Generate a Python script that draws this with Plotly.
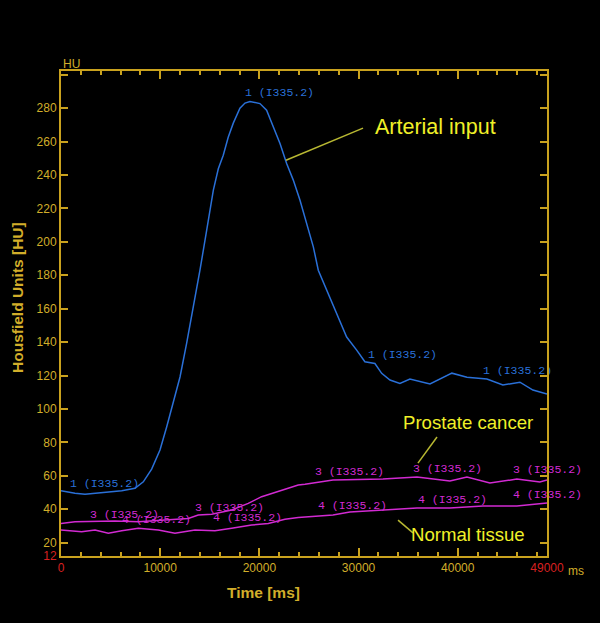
import plotly.graph_objects as go

# ---- data ----
art_t = [0, 1410, 2420, 4440, 6120, 7460, 8300, 9140, 9980, 10660, 11320, 12000, 12670,
         13340, 14010, 14690, 15360, 15860, 16360, 16860, 17370, 18040, 18550, 19050, 20060,
         20730, 21400, 22080, 22750, 23420, 24090, 24770, 25440, 25940, 26780, 27790, 28800,
         29810, 30640, 31650, 32330, 33170, 34170, 35180, 37200, 39410, 40930, 42940, 44550,
         46270, 47580, 49000]
art_hu = [51, 49.5, 48.9, 49.9, 51, 52.5, 56.4, 64, 75.4, 89.3, 103.5, 119.1, 139.4,
          160.9, 183, 207, 230.9, 243.7, 251.8, 262.5, 271, 280, 283, 284, 282.7,
          278.7, 268.8, 258.8, 246.9, 236.9, 225, 211, 197, 183, 171, 157, 143,
          135.2, 128.2, 127.2, 121.3, 117.3, 115.3, 117.9, 114.9, 121.4, 119, 117.9, 114.3,
          116, 111.3, 108.9]

pc_t = [0, 1410, 5440, 7800, 10480, 12830, 13840, 15190, 17210, 18880, 20230, 22250,
        23920, 24600, 27420, 32460, 35890, 39210, 40930, 43240, 45960, 48280, 49000]
pc_hu = [31.5, 32.5, 33, 32.5, 33.5, 34.5, 36.5, 37, 39.5, 43.5, 47.5, 51.5,
         54.5, 55, 57.5, 58, 59.2, 56.9, 59.2, 55.7, 58, 56.3, 57.5]

nt_t = [0, 2080, 3430, 4770, 6120, 7800, 9810, 11490, 13510, 15520, 17210, 19220,
        20900, 22580, 23920, 27420, 29130, 32460, 35890, 39210, 42540, 45960, 49000]
nt_hu = [27.5, 26.5, 27.5, 25.6, 27.1, 28.6, 27.5, 25.6, 27.5, 27.1, 28.6, 30.5,
         31.5, 34, 35, 36.5, 38.3, 39.5, 40.7, 40.7, 41.9, 41.9, 43.7]

label_text = "(I335.2)"
art_lab_t = [910, 18550, 30950, 42550]
art_lab_hu = [55.1, 288.9, 132.2, 122.6]
pc_lab_t = [2920, 13510, 25610, 35490, 45570]
pc_lab_hu = [36.5, 40.7, 62.2, 64, 63.4]
nt_lab_t = [6150, 15320, 25910, 35990, 45570]
nt_lab_hu = [33.5, 34.7, 41.9, 45.5, 48.5]

x_ticks = [0, 10000, 20000, 30000, 40000, 49000]
y_ticks = [12, 20, 40, 60, 80, 100, 120, 140, 160, 180, 200, 220, 240, 260, 280, 300]

GOLD = "#c9a21e"
GOLD_TXT = "#d2ae2a"
RED = "#d82020"
BLUE = "#2a70d8"
MAG = "#d22ad2"
YEL = "#f0f028"
LINE_Y = "#b8b832"

fig = go.Figure()
fig.add_trace(go.Scatter(x=art_t, y=art_hu, mode="lines", line=dict(color=BLUE, width=1.5),
                         showlegend=False))
fig.add_trace(go.Scatter(x=pc_t, y=pc_hu, mode="lines", line=dict(color=MAG, width=1.5), showlegend=False))
fig.add_trace(go.Scatter(x=nt_t, y=nt_hu, mode="lines", line=dict(color=MAG, width=1.5), showlegend=False))

mono = dict(family="Liberation Mono", size=11.5)
for ts, hs, num, col in [(art_lab_t, art_lab_hu, 1, BLUE), (pc_lab_t, pc_lab_hu, 3, MAG), (nt_lab_t, nt_lab_hu, 4, MAG)]:
    fig.add_trace(go.Scatter(x=ts, y=hs, mode="text", text=[f"{num} {label_text}"] * len(ts),
                             textposition="middle right", textfont=dict(color=col, **mono),
                             showlegend=False, cliponaxis=False))

def tl(v):
    if v in (0, 49000, 12):
        return f'<span style="color:{RED}">{v}</span>'
    if v == 300:
        return ""
    return str(v)

fig.update_layout(
    width=600, height=623,
    paper_bgcolor="black", plot_bgcolor="black",
    margin=dict(l=61, r=53, t=71, b=67, autoexpand=False),
    font=dict(family="Liberation Sans", size=12, color=GOLD_TXT),
    xaxis=dict(range=[0, 49000], tickvals=x_ticks, ticktext=[tl(v) for v in x_ticks],
               showgrid=False, zeroline=False, showline=True, linecolor=GOLD, linewidth=2,
               mirror="allticks", ticks="inside", ticklen=8, tickcolor=GOLD, tickwidth=1.5,
               minor=dict(dtick=2000, ticks="inside", ticklen=4, tickcolor=GOLD, tickwidth=1.5),
               tickfont=dict(color=GOLD_TXT, size=12)),
    yaxis=dict(range=[12, 302.2], tickvals=y_ticks, ticktext=[tl(v) for v in y_ticks],
               showgrid=False, zeroline=False, showline=True, linecolor=GOLD, linewidth=2,
               mirror="allticks", ticks="inside", ticklen=7, tickcolor=GOLD, tickwidth=1.5,
               tickfont=dict(color=GOLD_TXT, size=12)),
)

ann = [
    dict(text="HU", x=0, y=1, xref="paper", yref="paper", xanchor="left", yanchor="bottom",
         showarrow=False, font=dict(color=GOLD_TXT, size=12), yshift=-2),
    dict(text="ms", x=1, y=0, xref="paper", yref="paper", xanchor="left", yanchor="top",
         showarrow=False, font=dict(color=GOLD_TXT, size=12), xshift=19, yshift=-6),
    dict(text="<b>Time [ms]</b>", x=263, y=592, xref="paper", yref="paper", showarrow=False,
         xanchor="center", yanchor="middle", font=dict(color=GOLD_TXT, size=15.5)),
    dict(text="<b>Housfield Units [HU]</b>", x=17, y=298, xref="paper", yref="paper", showarrow=False,
         xanchor="center", yanchor="middle", textangle=-90, font=dict(color=GOLD_TXT, size=15.5)),
    dict(text="Arterial input", x=37710, y=268.6, xref="x", yref="y", showarrow=False,
         font=dict(color=YEL, size=21.5)),
    dict(text="Prostate cancer", x=41030, y=92.1, xref="x", yref="y", showarrow=False,
         font=dict(color=YEL, size=18.6)),
    dict(text="Normal tissue", x=41030, y=24.6, xref="x", yref="y", showarrow=False,
         font=dict(color=YEL, size=18.6)),
]
# convert pixel-placed annotations to paper coords
for a in ann:
    if a["xref"] == "paper" and a["x"] > 1:
        a["x"] = (a["x"] - 61) / 486
        a["y"] = (556 - a["y"]) / 485
fig.update_layout(annotations=ann)

# leader lines (data coords)
for x0, y0, x1, y1 in [(30450, 268.0, 22680, 248.8), (37910, 83.2, 35990, 67.6), (33980, 33.5, 35490, 25.8)]:
    fig.add_shape(type="line", x0=x0, y0=y0, x1=x1, y1=y1, xref="x", yref="y",
                  line=dict(color=LINE_Y, width=1.5))

fig.write_html("out.html", config={"displayModeBar": False},
               post_script="document.body.style.margin='0';document.body.style.background='black';")
